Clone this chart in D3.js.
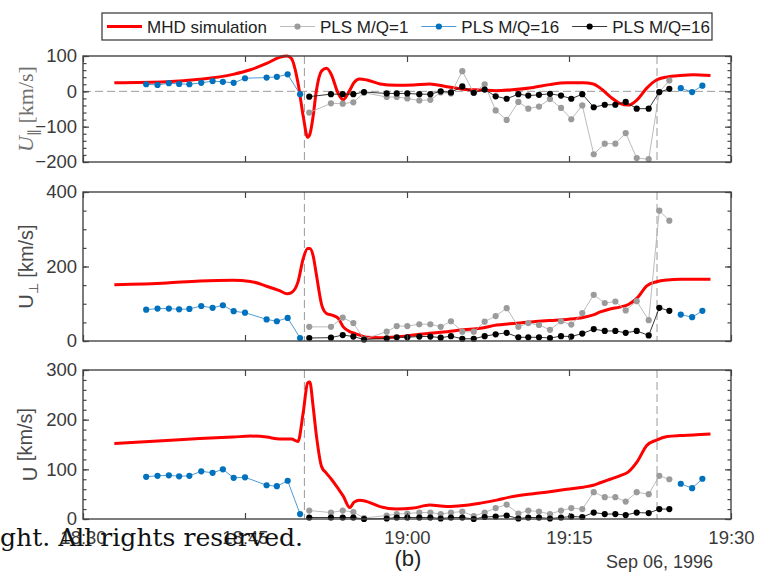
<!DOCTYPE html>
<html>
<head>
<meta charset="utf-8">
<script src="https://cdn.jsdelivr.net/npm/d3@7"></script>
<style>
  body { margin: 0; background: #fff; }
  svg { display: block; font-family: "Liberation Sans", Arial, sans-serif; }
</style>
</head>
<body>
<svg width="760" height="577"></svg>
<script>
// all times are minutes after 18:30 UT, Sep 06 1996
var mhdTimes = [2.9, 7.75, 10.8, 13.9, 15.5, 17.0, 18.2, 18.9, 19.3, 19.9, 20.4, 20.8, 21.0, 21.3, 21.6,
    22.1, 22.55, 23.0, 23.6, 24.1, 24.7, 25.1, 25.6, 26.3, 27.5, 29.0, 30.6, 32.1, 33.7, 35.2, 36.8,
    38.3, 39.5, 41.7, 43.2, 44.8, 46.3, 47.25, 47.9, 48.8, 49.7, 50.5, 51.3, 52.2, 53.1, 54.1, 55.3, 56.5, 58.1];
var mhdUpar = [24, 27, 34, 48, 61, 79, 96, 100, 93, 25, -72, -130, -122, -72, 0,
    58, 65, 47, -4, -24, 3, 25, 35, 32, 21, 17, 18, 21, 13, 6, 4,
    2, 4, 11, 19, 24, 24, 21, 9, -15, -34, -39, -24, 9, 32, 41, 45, 47, 45];
var mhdUperp = [151, 156, 161, 163, 160, 147, 135, 127, 130, 158, 222, 248, 248, 230, 180,
    97, 74, 70, 62, 38, 25, 21, 16, 10, 9, 11, 16, 21, 25, 30, 34,
    43, 46, 52, 55, 58, 63, 70, 78, 86, 91, 98, 115, 148, 159, 164, 166, 166, 166];
var mhdU = [152, 158, 162, 165, 167, 165, 161, 161, 161, 156, 216, 274, 276, 228, 170,
    105, 92, 80, 62, 46, 23, 34, 38, 35, 25, 20, 22, 28, 25, 27, 32,
    38, 44, 51, 55, 60, 64, 68, 73, 80, 87, 95, 115, 148, 159, 166, 168, 169, 171];

// PLS samples (gray = M/Q=1, black = M/Q=16 share the same times)
var plsTimes = [20.95, 22.96, 24.05, 25.03, 26.02, 28.12, 29.05, 30.03, 31.14, 32.16, 33.12, 34.07,
    35.12, 36.18, 37.19, 38.21, 39.23, 40.31, 41.23, 42.22, 43.24, 44.26, 45.21, 46.23, 47.29,
    48.31, 49.29, 50.25, 51.27, 52.38, 53.36, 54.29];
var q1Upar = [-60, -34, -35, -31, -4, -16, -16, -20, -26, -24, -3, -6, 57, -4, 20, -54, -81, -30, -49, -43,
    -22, -47, -79, -40, -178, -148, -148, -118, -189, -192, -2, 31];
var q1Uperp = [38, 38, 63, 48, 5, 25, 40, 40, 45, 45, 38, 53, 25, 25, 52, 67, 88, 38, 48, 43,
    30, 53, 44, 75, 124, 102, 106, 82, 107, 56, 350, 323];
var q1U = [17, 13, 17, 14, 2, 7, 10, 11, 13, 13, 10, 13, 15, 6, 13, 22, 29, 11, 17, 15,
    10, 17, 22, 20, 54, 44, 44, 35, 54, 50, 87, 80];
var q16Upar = [-15, -8, -8, -8, -2, -6, -6, -6, -8, -8, 0, -3, 14, -4, 5, -14, -21, -8, -12, -10,
    -7, -12, -21, -8, -45, -38, -38, -30, -49, -49, -2, 7];
var q16Uperp = [8, 9, 16, 12, 4, 7, 10, 10, 12, 12, 9, 13, 6, 6, 13, 18, 22, 10, 10, 10,
    8, 13, 12, 20, 32, 27, 27, 22, 27, 15, 89, 81];
var q16U = [3, 3, 3, 3, 0, 1, 3, 3, 3, 3, 1, 3, 3, 0, 4, 5, 7, 1, 3, 3,
    1, 3, 5, 4, 13, 10, 10, 8, 13, 12, 20, 20];

// blue PLS M/Q=16 outside the interval (null = gap)
var blueTimes = [5.85, 6.9, 7.95, 8.9, 9.85, 10.95, 12.0, 12.95, 13.95, 15.0, 17.0, 17.95, 18.95, 20.1,
    null, 55.35, 56.4, 57.35];
var blueUpar = [20, 18, 23, 21, 20, 24, 29, 27, 24, 37, 39, 41, 48, -8, null, 9, -2, 16];
var blueUperp = [84, 87, 87, 85, 86, 94, 89, 96, 80, 76, 58, 53, 62, 8, null, 71, 64, 81];
var blueU = [85, 87, 88, 86, 87, 96, 93, 100, 83, 84, 68, 66, 77, 10, null, 71, 62, 81];

var boundaryTimes = [20.5, 53.15];
var xTickTimes = [0, 15, 30, 45, 60];
var uparTicks = [-200, -100, 0, 100];
var uperpTicks = [0, 200, 400];
var uTicks = [0, 100, 200, 300];
var legendLabels = ["MHD simulation", "PLS M/Q=1", "PLS M/Q=16", "PLS M/Q=16"];

var svg = d3.select("svg");
var base = new Date(1996, 8, 6, 18, 30);
function at(m) { return new Date(base.getTime() + m * 60000); }

var left = 83, right = 731;
var x = d3.scaleTime().domain([at(0), at(60)]).range([left, right]);
var axisCol = "#454545";

function pts(times, vals) {
    return times.map(function (t, i) { return {t: t, v: vals[i]}; });
}

function drawPanel(p) {
    var y = d3.scaleLinear().domain(p.domain).range([p.bottom, p.top]);
    var g = svg.append("g");

    // dashed reference lines
    boundaryTimes.forEach(function (t) {
        g.append("line")
            .attr("x1", x(at(t))).attr("x2", x(at(t)))
            .attr("y1", p.top).attr("y2", p.bottom)
            .attr("stroke", "#9a9a9a").attr("stroke-width", 1).attr("stroke-dasharray", "8,4");
    });
    if (p.zero) {
        g.append("line")
            .attr("x1", left).attr("x2", right)
            .attr("y1", y(0)).attr("y2", y(0))
            .attr("stroke", "#9a9a9a").attr("stroke-width", 1).attr("stroke-dasharray", "8,4");
    }

    var line = d3.line()
        .defined(function (d) { return d.v != null; })
        .x(function (d) { return x(at(d.t)); })
        .y(function (d) { return y(d.v); });

    g.append("path")
        .datum(pts(mhdTimes, p.mhd))
        .attr("fill", "none").attr("stroke", "#ff0000").attr("stroke-width", 3)
        .attr("d", line.curve(d3.curveMonotoneX));
    line.curve(d3.curveLinear);

    var series = [
        {d: pts(plsTimes, p.q1), line: "#b3b3b3", dot: "#9b9b9b"},
        {d: pts(blueTimes, p.blue), line: "#3d8fd0", dot: "#0072bd"},
        {d: pts(plsTimes, p.q16), line: "#222", dot: "#000"}
    ];
    series.forEach(function (s) {
        g.append("path").datum(s.d)
            .attr("fill", "none").attr("stroke", s.line).attr("stroke-width", 0.9)
            .attr("d", line);
        g.selectAll(null).data(s.d.filter(function (d) { return d.v != null; }))
            .enter().append("circle")
            .attr("cx", function (d) { return x(at(d.t)); })
            .attr("cy", function (d) { return y(d.v); })
            .attr("r", 3.1)
            .attr("fill", s.dot);
    });

    // axes, ticks pointing inward on all four sides
    var minor = d3.range(p.domain[0], p.domain[1] + 0.001, p.minor);
    var xt = xTickTimes.map(at);
    var ax = svg.append("g").attr("color", axisCol);

    ax.append("g").attr("transform", "translate(" + left + ",0)")
        .call(d3.axisLeft(y).tickValues(p.ticks).tickSize(-6).tickSizeOuter(0).tickPadding(6));
    ax.append("g").attr("transform", "translate(" + left + ",0)")
        .call(d3.axisLeft(y).tickValues(minor).tickSize(-3.5).tickSizeOuter(0).tickFormat(""));
    ax.append("g").attr("transform", "translate(" + right + ",0)")
        .call(d3.axisRight(y).tickValues(p.ticks).tickSize(-6).tickSizeOuter(0).tickFormat(""));
    ax.append("g").attr("transform", "translate(" + right + ",0)")
        .call(d3.axisRight(y).tickValues(minor).tickSize(-3.5).tickSizeOuter(0).tickFormat(""));
    ax.append("g").attr("transform", "translate(0," + p.top + ")")
        .call(d3.axisTop(x).tickValues(xt).tickSize(-6).tickSizeOuter(0).tickFormat(""));
    ax.append("g").attr("transform", "translate(0," + p.bottom + ")")
        .call(d3.axisBottom(x).tickValues(xt).tickSize(-6).tickSizeOuter(0).tickPadding(12)
            .tickFormat(p.showX ? d3.timeFormat("%H:%M") : ""));

    ax.selectAll(".domain").remove();
    ax.selectAll(".tick line").attr("stroke-width", 1.2);
    ax.selectAll("g").attr("font-family", null).attr("font-size", null);
    ax.selectAll("text").attr("font-size", 18.5).attr("fill", "#3a3a3a");

    ax.append("rect")
        .attr("x", left).attr("y", p.top)
        .attr("width", right - left).attr("height", p.bottom - p.top)
        .attr("fill", "none").attr("stroke", axisCol).attr("stroke-width", 1.4);

    // y title
    var mid = (p.top + p.bottom) / 2;
    var t = svg.append("text")
        .attr("transform", "translate(" + p.labelX + "," + mid + ") rotate(-90)")
        .attr("text-anchor", "middle")
        .attr("fill", p.labelCol)
        .attr("font-size", p.labelSize)
        .attr("font-family", p.labelFont);
    t.append("tspan").attr("font-style", p.italic ? "italic" : null).text("U");
    t.append("tspan").attr("font-size", p.labelSize * 0.65).attr("dy", 5).text(p.sub);
    t.append("tspan").attr("dy", -5).text(" [km/s]");
}

drawPanel({top: 56, bottom: 162, domain: [-200, 100], ticks: uparTicks, minor: 20, zero: true,
    mhd: mhdUpar, q1: q1Upar, q16: q16Upar, blue: blueUpar,
    labelX: 33, labelCol: "#707070", labelSize: 22, labelFont: "'Liberation Serif', serif", italic: true, sub: "\u2225"});
drawPanel({top: 192, bottom: 341, domain: [0, 400], ticks: uperpTicks, minor: 50,
    mhd: mhdUperp, q1: q1Uperp, q16: q16Uperp, blue: blueUperp,
    labelX: 33, labelCol: "#4a4a4a", labelSize: 20, labelFont: "'Liberation Sans', sans-serif", sub: "\u22A5"});
drawPanel({top: 370, bottom: 519, domain: [0, 300], ticks: uTicks, minor: 20, showX: true,
    mhd: mhdU, q1: q1U, q16: q16U, blue: blueU,
    labelX: 37, labelCol: "#4a4a4a", labelSize: 20, labelFont: "'Liberation Sans', sans-serif", sub: ""});

// legend
var leg = svg.append("g");
var box = leg.append("rect")
    .attr("x", 102).attr("y", 13).attr("width", 610).attr("height", 27)
    .attr("fill", "#fff").attr("stroke", "#333").attr("stroke-width", 1.2);
var legStyles = [
    {line: "#ff0000", w: 3, dot: null},
    {line: "#b3b3b3", w: 0.9, dot: "#9b9b9b"},
    {line: "#3d8fd0", w: 0.9, dot: "#0072bd"},
    {line: "#222", w: 0.9, dot: "#000"}
];
var cx = 107;
legendLabels.forEach(function (name, i) {
    var s = legStyles[i];
    leg.append("line").attr("x1", cx).attr("x2", cx + 35).attr("y1", 26.5).attr("y2", 26.5)
        .attr("stroke", s.line).attr("stroke-width", s.w);
    if (s.dot) leg.append("circle").attr("cx", cx + 17.5).attr("cy", 26.5).attr("r", 3.1).attr("fill", s.dot);
    var txt = leg.append("text").attr("x", cx + 40).attr("y", 32.5)
        .attr("font-size", 17).attr("fill", "#222").text(name);
    cx = cx + 40 + txt.node().getComputedTextLength() + 13;
});

// footer texts
svg.append("text").attr("x", 408).attr("y", 566).attr("text-anchor", "middle")
    .attr("font-size", 22).attr("fill", "#222").text("(b)");
svg.append("text").attr("x", 713).attr("y", 568).attr("text-anchor", "end")
    .attr("font-size", 18).attr("fill", "#3a3a3a").text("Sep 06, 1996");
svg.append("text").attr("x", 0).attr("y", 546)
    .attr("font-family", "'DejaVu Serif', serif").attr("font-size", 24)
    .attr("textLength", 303).attr("lengthAdjust", "spacingAndGlyphs")
    .attr("fill", "#111").text("ght. All rights reserved.");
</script>
</body>
</html>
